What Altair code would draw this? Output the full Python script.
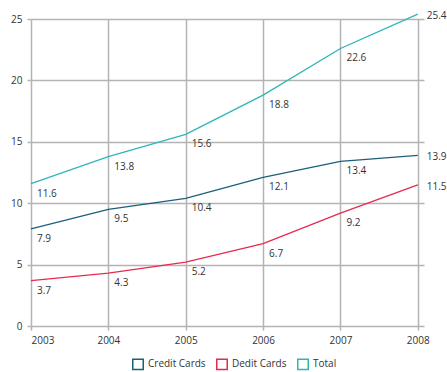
import altair as alt
import pandas as pd

# Card payments by year (values in the series labels)
years = [2003, 2004, 2005, 2006, 2007, 2008]
credit_cards = [7.9, 9.5, 10.4, 12.1, 13.4, 13.9]
debit_cards = [3.7, 4.3, 5.2, 6.7, 9.2, 11.5]
total = [11.6, 13.8, 15.6, 18.8, 22.6, 25.4]

series_names = ["Credit Cards", "Dedit Cards", "Total"]
series_colors = ["#1b5f7a", "#e8294f", "#2db6b8"]

rows = []
for name, vals in zip(series_names, [credit_cards, debit_cards, total]):
    for y, v in zip(years, vals):
        rows.append({"year": y, "series": name, "value": v, "label": f"{v:.1f}"})
df = pd.DataFrame(rows)

font = "Open Sans"
grid_color = "#b4b4b4"
text_color = "#333333"

x_enc = alt.X(
    "year:Q",
    scale=alt.Scale(domain=[2003, 2008.08], nice=False, zero=False),
    axis=alt.Axis(
        values=years, format="d", title=None, domain=False,
        grid=True, gridColor=grid_color, gridWidth=1.5,
        tickColor=grid_color, tickWidth=1.5, tickSize=4,
        labelFont=font, labelFontSize=10, labelColor=text_color, labelPadding=5,
    ),
)
y_enc = alt.Y(
    "value:Q",
    scale=alt.Scale(domain=[0, 25], nice=False),
    axis=alt.Axis(
        values=[0, 5, 10, 15, 20, 25], title=None, domain=False,
        grid=True, gridColor=grid_color, gridWidth=1.5,
        tickColor=grid_color, tickWidth=1.5, tickSize=4,
        labelFont=font, labelFontSize=10, labelColor=text_color, labelPadding=5,
    ),
)
color_enc = alt.Color(
    "series:N",
    scale=alt.Scale(domain=series_names, range=series_colors),
    legend=alt.Legend(
        title=None, orient="none", legendX=101, legendY=339,
        direction="horizontal",
        symbolType="square", symbolFillColor="white", symbolStrokeWidth=1.5,
        symbolSize=110, labelFont=font, labelFontSize=10, labelColor=text_color,
        columnPadding=7,
    ),
)

base = alt.Chart(df)

lines = base.mark_line(strokeWidth=1.3, clip=False).encode(
    x=x_enc, y=y_enc, color=color_enc, detail="series:N"
)

inner_labels = base.transform_filter(alt.datum.year < 2008).mark_text(
    align="left", baseline="top", dx=6, dy=5, font=font, fontSize=10, color=text_color
).encode(x="year:Q", y="value:Q", text="label:N")

end_labels = base.transform_filter(alt.datum.year == 2008).mark_text(
    align="left", baseline="middle", dx=9, dy=2, font=font, fontSize=10, color=text_color
).encode(x="year:Q", y="value:Q", text="label:N")

chart = (
    alt.layer(lines, inner_labels, end_labels)
    .properties(
        width=393, height=307,
        autosize=alt.AutoSizeParams(type="none"),
        padding={"left": 31, "top": 19, "right": 23, "bottom": 46},
        background="white",
    )
    .configure_view(stroke=None)
)

chart.save("out.html", embed_options={"renderer": "svg", "actions": False})
